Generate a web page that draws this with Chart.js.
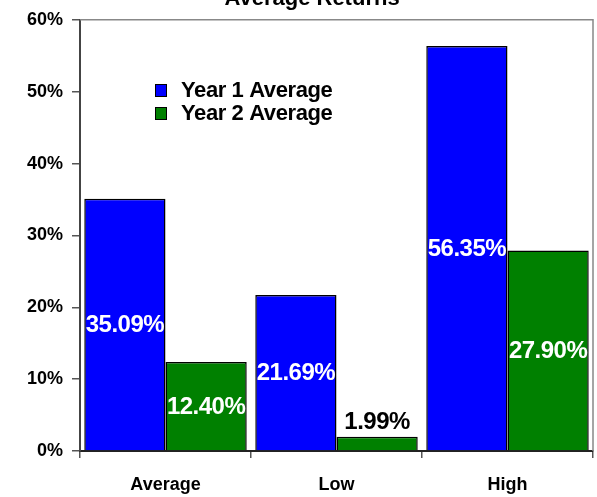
<!DOCTYPE html>
<html>
<head>
<meta charset="utf-8">
<script src="https://cdn.jsdelivr.net/npm/chart.js@4"></script>
<style>
  html, body { margin: 0; padding: 0; background: #fff; }
  #wrap { width: 597px; height: 497px; }
</style>
</head>
<body>
<div id="wrap"><canvas id="myChart"></canvas></div>
<script>
const categories = ['Average', 'Low', 'High']
const year1 = [35.09, 21.69, 56.35]
const year2 = [12.40, 1.99, 27.90]
const seriesNames = ['Year 1 Average', 'Year 2 Average']
const yTicks = [0, 10, 20, 30, 40, 50, 60]

const FONT = '"Liberation Sans", Arial, sans-serif'

// title, drawn partly off the top like the original
const titlePlugin = {
  id: 'topTitle',
  afterDraw(chart) {
    const c = chart.ctx
    c.save()
    c.font = 'bold 22px ' + FONT
    c.fillStyle = '#000'
    c.textAlign = 'center'
    c.textBaseline = 'alphabetic'
    c.fillText('Average Returns', 312, 5)
    c.restore()
  }
}

// grey frame on top and right of the plot
const framePlugin = {
  id: 'frame',
  beforeDatasetsDraw(chart) {
    const a = chart.chartArea
    const c = chart.ctx
    c.save()
    c.strokeStyle = '#888'
    c.lineWidth = 1.5
    c.beginPath()
    c.moveTo(a.left, a.top)
    c.lineTo(a.right, a.top)
    c.lineTo(a.right, a.bottom)
    c.stroke()
    c.restore()
  }
}

// legend inside the plot
const legendPlugin = {
  id: 'innerLegend',
  afterDraw(chart) {
    const c = chart.ctx
    c.save()
    c.font = 'bold 22px ' + FONT
    c.textBaseline = 'middle'
    chart.data.datasets.forEach((ds, i) => {
      const y = 90 + i * 23
      c.fillStyle = ds.backgroundColor
      c.fillRect(155, y - 6, 12, 13)
      c.strokeStyle = '#000'
      c.lineWidth = 1
      c.strokeRect(155.5, y - 5.5, 11, 12)
      c.fillStyle = '#000'
      c.letterSpacing = '-0.4px'
      c.fillText(ds.label, 181, y + 1)
    })
    c.restore()
  }
}

// value labels on the bars
const valuePlugin = {
  id: 'values',
  afterDatasetsDraw(chart) {
    const c = chart.ctx
    c.save()
    c.font = 'bold 24px ' + FONT
    c.letterSpacing = '-0.5px'
    c.textAlign = 'center'
    chart.data.datasets.forEach((ds, i) => {
      chart.getDatasetMeta(i).data.forEach((bar, j) => {
        const v = ds.data[j]
        const txt = v.toFixed(2) + '%'
        const h = bar.base - bar.y
        if (h > 30) {
          c.fillStyle = '#fff'
          c.textBaseline = 'middle'
          c.fillText(txt, bar.x, (bar.y + bar.base) / 2 + 1)
        } else {
          c.fillStyle = '#000'
          c.textBaseline = 'bottom'
          c.fillText(txt, bar.x, bar.y - 2)
        }
      })
    })
    c.restore()
  }
}

const data = {
  labels: categories,
  datasets: [{
    label: seriesNames[0],
    data: year1,
    backgroundColor: '#0000ff',
    borderColor: '#000',
    borderWidth: 1.5
  }, {
    label: seriesNames[1],
    data: year2,
    backgroundColor: '#008000',
    borderColor: '#000',
    borderWidth: 1.5
  }]
}

const config = {
  type: 'bar',
  data: data,
  options: {
    responsive: true,
    maintainAspectRatio: false,
    animation: false,
    layout: { padding: { top: 17, right: 4, bottom: 0, left: 0 } },
    datasets: { bar: { barPercentage: 1, categoryPercentage: 0.95 } },
    plugins: {
      legend: { display: false },
      title: { display: false },
      tooltip: { enabled: false }
    },
    scales: {
      x: {
        grid: { display: true, drawOnChartArea: false, offset: true, tickLength: 7, color: '#555', lineWidth: 1.5 },
        border: { display: true, color: '#222', width: 2 },
        ticks: { color: '#000', font: { family: FONT, size: 18, weight: 'bold' }, padding: 16 },
        afterFit(s) { s.height = 46 }
      },
      y: {
        min: 0,
        max: 60,
        afterBuildTicks(s) { s.ticks = yTicks.map(v => ({ value: v })) },
        grid: { display: true, drawOnChartArea: false, tickLength: 8, color: '#555', lineWidth: 1.5 },
        border: { display: true, color: '#444', width: 2 },
        ticks: {
          color: '#000',
          font: { family: FONT, size: 18, weight: 'bold' },
          padding: 9,
          callback: v => v + '%'
        },
        afterFit(s) { s.width = 80 }
      }
    }
  },
  plugins: [titlePlugin, framePlugin, legendPlugin, valuePlugin]
}

const myChart = new Chart(document.getElementById('myChart'), config)
</script>
</body>
</html>
